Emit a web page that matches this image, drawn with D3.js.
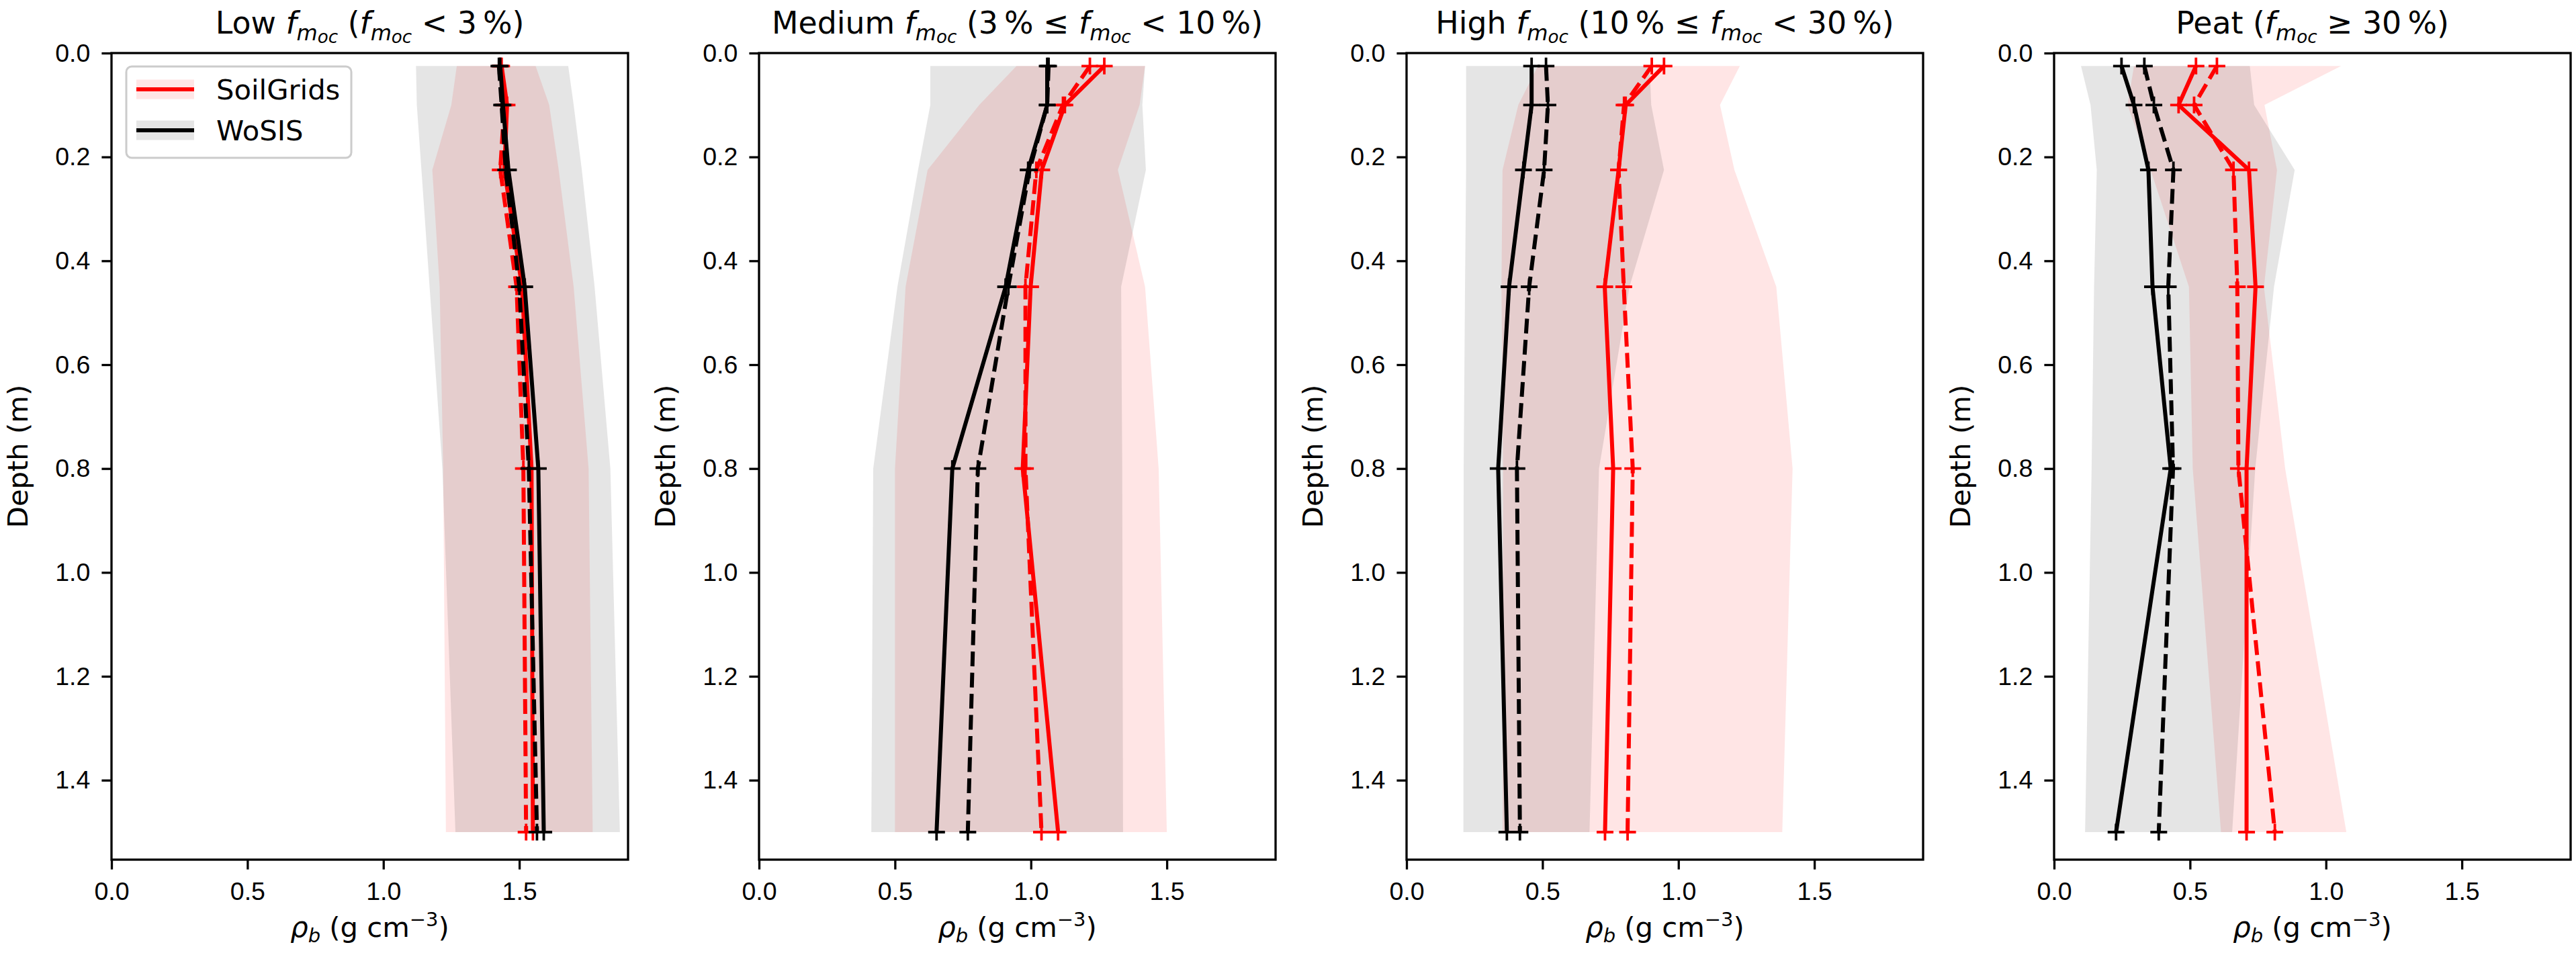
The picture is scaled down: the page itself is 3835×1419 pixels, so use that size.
<!DOCTYPE html>
<html lang="en">
<head>
  <meta charset="UTF-8">
  <style>
    body {
      margin: 0;
      background: #fff;
    }
    svg {
      display: block;
      font-family: "DejaVu Sans", sans-serif;
    }
    /* axis */
    .axis path {
      display: none;
    }
    .axis .tick line {
      stroke: #000;
      stroke-width: 3.3;
    }
    .axis .tick text {
      font-size: 37.5px;
      fill: #000;
    }
    .frame {
      fill: none;
      stroke: #000;
      stroke-width: 3.3;
    }
    .label {
      font-size: 41.7px;
      fill: #000;
    }
    .title {
      font-size: 45.8px;
      fill: #000;
    }
    /* graph */
    .fn {
      fill: none;
      stroke-width: 6;
      stroke-linejoin: round;
    }
    .marker {
      fill: none;
      stroke-width: 3.8;
    }
  </style>
</head>
<body>
  <svg id="chart" width="3835" height="1419"></svg>
  <script src="https://cdnjs.cloudflare.com/ajax/libs/d3/7.8.5/d3.min.js"></script>
  <script>
    // data, one row per panel: Low, Medium, High, Peat
    const depths = [0.025, 0.1, 0.225, 0.45, 0.8, 1.5]
    const panelNames = ['Low', 'Medium', 'High', 'Peat']
    // title pieces, {f} stands for f_{m_oc}
    const panelTitles = [
      'Low {f} ({f} < 3\u2009%)',
      'Medium {f} (3\u2009% \u2264 {f} < 10\u2009%)',
      'High {f} (10\u2009% \u2264 {f} < 30\u2009%)',
      'Peat ({f} \u2265 30\u2009%)',
    ]
    const xTicks = [0, 0.5, 1.0, 1.5]
    const yTicks = [0, 0.2, 0.4, 0.6, 0.8, 1.0, 1.2, 1.4]
    const legendLabels = ['SoilGrids', 'WoSIS']

    // SoilGrids, solid and dashed profiles
    const soilgridsMedian = [
      [1.435, 1.455, 1.445, 1.51, 1.545, 1.55],
      [1.27, 1.125, 1.04, 0.999, 0.97, 1.10],
      [0.947, 0.806, 0.78, 0.729, 0.76, 0.73],
      [0.522, 0.458, 0.717, 0.741, 0.708, 0.708],
    ]
    const soilgridsMean = [
      [1.43, 1.445, 1.43, 1.49, 1.515, 1.525],
      [1.217, 1.118, 1.02, 0.98, 0.98, 1.039],
      [0.902, 0.80, 0.78, 0.799, 0.832, 0.813],
      [0.599, 0.515, 0.66, 0.674, 0.678, 0.812],
    ]
    const soilgridsLow = [
      [1.27, 1.25, 1.18, 1.207, 1.22, 1.23],
      [0.947, 0.81, 0.62, 0.539, 0.50, 0.50],
      [0.483, 0.411, 0.353, 0.349, 0.355, 0.353],
      [0.294, 0.27, 0.355, 0.496, 0.51, 0.614],
    ]
    const soilgridsHigh = [
      [1.56, 1.61, 1.645, 1.70, 1.755, 1.77],
      [1.42, 1.40, 1.32, 1.42, 1.47, 1.50],
      [1.226, 1.153, 1.206, 1.36, 1.42, 1.382],
      [1.056, 0.774, 0.82, 0.772, 0.85, 1.075],
    ]

    // WoSIS, solid and dashed profiles
    const wosisMedian = [
      [1.43, 1.44, 1.46, 1.52, 1.57, 1.59],
      [1.06, 1.06, 0.99, 0.907, 0.711, 0.653],
      [0.46, 0.46, 0.43, 0.377, 0.337, 0.369],
      [0.248, 0.294, 0.347, 0.362, 0.429, 0.228],
    ]
    const wosisMean = [
      [1.425, 1.435, 1.45, 1.50, 1.535, 1.565],
      [1.065, 1.06, 0.995, 0.917, 0.805, 0.768],
      [0.513, 0.52, 0.506, 0.451, 0.406, 0.417],
      [0.332, 0.367, 0.439, 0.42, 0.4375, 0.385],
    ]
    const wosisLow = [
      [1.12, 1.123, 1.14, 1.17, 1.217, 1.265],
      [0.63, 0.63, 0.585, 0.509, 0.42, 0.413],
      [0.219, 0.219, 0.219, 0.215, 0.21, 0.209],
      [0.099, 0.134, 0.157, 0.147, 0.138, 0.114],
    ]
    const wosisHigh = [
      [1.68, 1.70, 1.73, 1.777, 1.835, 1.87],
      [1.42, 1.41, 1.423, 1.332, 1.336, 1.339],
      [0.894, 0.90, 0.947, 0.82, 0.708, 0.673],
      [0.72, 0.736, 0.885, 0.809, 0.74, 0.655],
    ]

    // layout
    const left0 = 166, top0 = 79
    const panelW = 769, panelH = 1201, panelStep = 964

    const xScale = d3.scaleLinear().domain([0, 1.9]).range([0, panelW])
    const yScale = d3.scaleLinear().domain([0, 1.553]).range([0, panelH])

    const line = d3.line()
      .x(d => xScale(d.v))
      .y(d => yScale(d.z))
    const band = d3.area()
      .y(d => yScale(d.z))
      .x0(d => xScale(d.lo))
      .x1(d => xScale(d.hi))

    const series = [
      { name: 'SoilGrids', color: '#ff0000', mid: soilgridsMedian, mean: soilgridsMean, lo: soilgridsLow, hi: soilgridsHigh },
      { name: 'WoSIS', color: '#000000', mid: wosisMedian, mean: wosisMean, lo: wosisLow, hi: wosisHigh },
    ]

    const svg = d3.select('#chart')
    svg.append('rect').attr('width', 3835).attr('height', 1419).attr('fill', '#fff')

    // mathtext-ish helper: f with nested subscript m_oc
    function addF(text, size) {
      text.append('tspan').attr('font-style', 'italic').text('f')
      text.append('tspan').attr('font-style', 'italic')
          .attr('font-size', size * 0.7).attr('dy', size * 0.22).text('m')
      text.append('tspan').attr('font-style', 'italic')
          .attr('font-size', size * 0.57).attr('dy', size * 0.08).text('oc')
    }

    panelNames.forEach((name, p) => {
      const g = svg.append('g')
          .attr('transform', `translate(${left0 + p * panelStep}, ${top0})`)

      // Draw bands
      // ==========
      series.forEach(s => {
        const d = depths.map((z, i) => ({ z, lo: s.lo[p][i], hi: s.hi[p][i] }))
        g.append('path')
            .datum(d)
            .attr('d', band)
            .attr('fill', s.color)
            .attr('fill-opacity', 0.1)
      })

      // Draw profiles
      // =============
      series.forEach(s => {
        [[s.mid[p], null], [s.mean[p], '22,9.5']].forEach(([vals, dash]) => {
          const d = depths.map((z, i) => ({ z, v: vals[i] }))
          g.append('path')
              .datum(d)
              .attr('class', 'fn')
              .attr('d', line)
              .attr('stroke', s.color)
              .attr('stroke-dasharray', dash)
          g.append('g').selectAll('path')
              .data(d)
            .enter().append('path')
              .attr('class', 'marker')
              .attr('stroke', s.color)
              .attr('d', q => {
                const cx = xScale(q.v), cy = yScale(q.z)
                return `M${cx - 12.5},${cy}H${cx + 12.5}M${cx},${cy - 12.5}V${cy + 12.5}`
              })
        })
      })

      // Draw Axis
      // =========
      g.append('g')
          .attr('class', 'axis')
          .attr('transform', `translate(0, ${panelH})`)
          .call(d3.axisBottom(xScale).tickValues(xTicks)
            .tickFormat(d3.format('.1f')).tickSize(14.6).tickPadding(19))
      g.append('g')
          .attr('class', 'axis')
          .call(d3.axisLeft(yScale).tickValues(yTicks)
            .tickFormat(d3.format('.1f')).tickSize(14.6).tickPadding(17))
      g.append('rect')
          .attr('class', 'frame')
          .attr('width', panelW)
          .attr('height', panelH)

      // labels
      g.append('text')
          .attr('class', 'label')
          .attr('transform', `translate(-125, ${panelH / 2}) rotate(-90)`)
          .attr('text-anchor', 'middle')
          .text('Depth (m)')

      const xl = g.append('text')
          .attr('class', 'label')
          .attr('x', panelW / 2)
          .attr('y', 1395 - top0)
          .attr('text-anchor', 'middle')
      xl.append('tspan').attr('font-style', 'italic').text('\u03c1')
      xl.append('tspan').attr('font-style', 'italic').attr('font-size', 29).attr('dy', 8).text('b')
      xl.append('tspan').attr('dy', -8).text(' (g cm')
      xl.append('tspan').attr('font-size', 29).attr('dy', -16).text('\u22123')
      xl.append('tspan').attr('dy', 16).text(')')

      // title
      const size = 45.8
      const t = g.append('text')
          .attr('class', 'title')
          .attr('x', panelW / 2)
          .attr('y', 50 - top0)
          .attr('text-anchor', 'middle')
      const parts = panelTitles[p].split('{f}')
      parts.forEach((part, i) => {
        if (i > 0) {
          addF(t, size)
          t.append('tspan').attr('dy', -size * 0.3).text(part)
        } else {
          t.append('tspan').text(part)
        }
      })

      // legend in first panel
      if (p === 0) {
        const lg = g.append('g').attr('transform', 'translate(22, 20)')
        lg.append('rect')
            .attr('width', 335).attr('height', 136)
            .attr('rx', 8)
            .attr('fill', '#fff').attr('fill-opacity', 0.8)
            .attr('stroke', '#cccccc').attr('stroke-width', 3)
        series.forEach((s, i) => {
          const cy = 34 + i * 61
          lg.append('rect')
              .attr('x', 15).attr('y', cy - 14.5)
              .attr('width', 86).attr('height', 29)
              .attr('fill', s.color).attr('fill-opacity', 0.1)
          lg.append('line')
              .attr('x1', 15).attr('x2', 101)
              .attr('y1', cy).attr('y2', cy)
              .attr('stroke', s.color).attr('stroke-width', 6)
          lg.append('text')
              .attr('class', 'label')
              .attr('x', 134).attr('y', cy)
              .attr('dy', '0.36em')
              .text(legendLabels[i])
        })
      }
    })
  </script>
</body>
</html>
